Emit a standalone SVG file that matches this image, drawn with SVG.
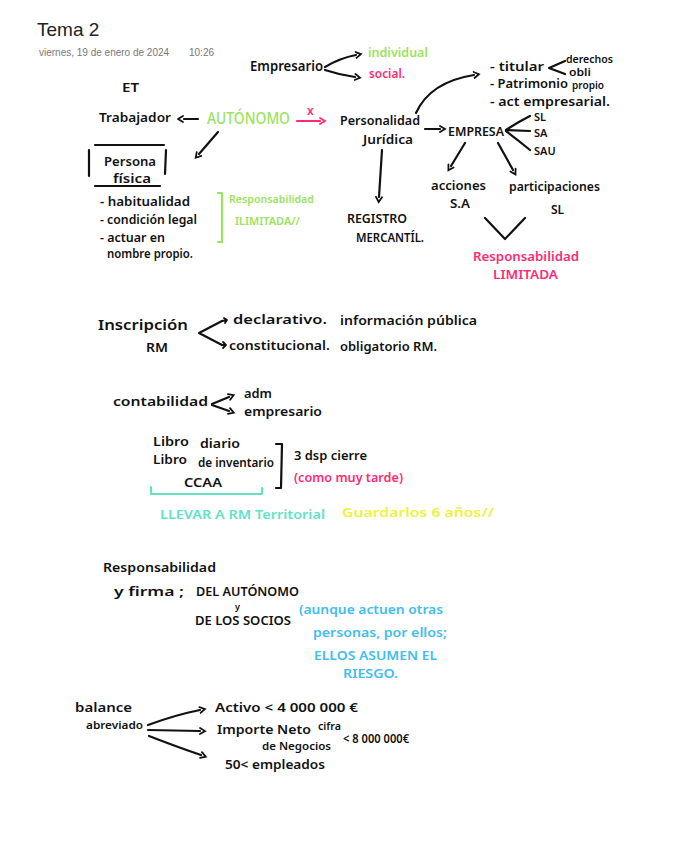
<svg xmlns="http://www.w3.org/2000/svg" width="678" height="848" viewBox="0 0 678 848">
<style>
text{font-family:"Noto Sans","Liberation Sans",sans-serif;font-weight:600;fill:#111}
.t13{font-size:13px}.t12{font-size:12px}.t11{font-size:11px}.t10{font-size:10px}.t14{font-size:14px}
.g{fill:#9ae35c}.p{fill:#ff2a74}.c{fill:#5fe2c6}.y{fill:#eef23a}.b{fill:#41bdf0}
.ln{stroke:#111;stroke-width:2.2;fill:none;stroke-linecap:round;stroke-linejoin:round}
.lp{stroke:#ff2a74}.lg{stroke:#9ae35c}.lc{stroke:#5fe2c6}
.ar{marker-end:url(#ah)}
</style>
<defs>
<marker id="ah" markerWidth="10" markerHeight="10" refX="1" refY="4" orient="auto" markerUnits="userSpaceOnUse">
<path d="M1,1 L6,4 L1,7" fill="none" stroke="#111" stroke-width="1.8" stroke-linecap="round"/>
</marker>
<marker id="ahp" markerWidth="10" markerHeight="10" refX="1" refY="4" orient="auto" markerUnits="userSpaceOnUse">
<path d="M1,1 L6,4 L1,7" fill="none" stroke="#ff2a74" stroke-width="1.8" stroke-linecap="round"/>
</marker>
</defs>
<rect width="678" height="848" fill="#fff"/>

<g id="header">
<text x="37" y="36" style="font-family:'Liberation Sans',sans-serif;font-weight:400;font-size:19px;fill:#222">Tema 2</text>
<text x="39" y="56" style="font-family:'Liberation Sans',sans-serif;font-weight:400;font-size:10px;fill:#777">viernes, 19 de enero de 2024</text>
<text x="189" y="56" style="font-family:'Liberation Sans',sans-serif;font-weight:400;font-size:10px;fill:#777">10:26</text>
</g>

<g id="connectors">
<path class="ln ar" d="M325 67 Q340 58 356 55"/>
<path class="ln ar" d="M325 70 Q340 75 355 77"/>
<path class="ln ar" d="M416 113 Q430 82 474 75"/>
<path class="ln" d="M565 61 L549 68 L565 74"/>
<path class="ln" d="M198 119 L184 119"/>
<path class="ln" d="M183 116 L178 119 L183 122" style="stroke-width:1.8"/>
<path class="ln lp" d="M297 121 L320 121" style="marker-end:url(#ahp)"/>
<path class="ln ar" d="M425 129 L440 129"/>
<path class="ln" d="M506 130 Q518 122 530 116"/>
<path class="ln" d="M506 130 L530 131"/>
<path class="ln" d="M506 131 Q518 140 530 150"/>
<path class="ln ar" d="M218 132 L199 154"/>
<path class="ln ar" d="M382 150 L379 197"/>
<path class="ln ar" d="M465 143 L451 166"/>
<path class="ln ar" d="M498 143 L513 170"/>
<path class="ln" d="M485 218 L505 239 L525 218"/>
<path class="ln" d="M95 145 L164 145 M89 150 L89 176 M166 150 L165 174 M95 186 L160 186"/>
<path class="ln lg" d="M218 193 L222 193 L222 242 L218 242"/>
<path class="ln" d="M222 321 L199 333 L222 345"/>
<path class="ln" d="M222 321 L227 320 M224 318 L227 320 L225 323" style="stroke-width:1.8"/>
<path class="ln" d="M222 345 L226 345 M223 342 L226 345 L223 348" style="stroke-width:1.8"/>
<path class="ln ar" d="M212 404 L229 397"/>
<path class="ln ar" d="M212 405 L229 411"/>
<path class="ln" d="M276 444 L282 444 L281 488 L276 488"/>
<path class="ln lc" d="M151 487 L151 494 L262 494 L262 488"/>
<path class="ln ar" d="M148 725 Q175 715 200 710"/>
<path class="ln ar" d="M148 730 L200 731"/>
<path class="ln ar" d="M149 736 Q180 748 201 755"/>
</g>

<g id="empresario">
<text class="t14" x="250" y="71" textLength="73" lengthAdjust="spacingAndGlyphs">Empresario</text>
<text class="t12 g" x="368" y="57" textLength="60" lengthAdjust="spacingAndGlyphs">individual</text>
<text class="t12 p" x="369" y="78" textLength="36" lengthAdjust="spacingAndGlyphs">social.</text>
</g>
<g id="et"><text class="t13" x="122" y="92" textLength="17" lengthAdjust="spacingAndGlyphs">ET</text></g>
<g id="titular">
<text class="t13" x="490" y="71" textLength="54" lengthAdjust="spacingAndGlyphs">- titular</text>
<text class="t10" x="566" y="63" textLength="47" lengthAdjust="spacingAndGlyphs">derechos</text>
<text class="t10" x="569" y="76" textLength="22" lengthAdjust="spacingAndGlyphs">obli</text>
<text class="t13" x="490" y="88" textLength="78" lengthAdjust="spacingAndGlyphs">- Patrimonio</text>
<text class="t10" x="572" y="89" textLength="32" lengthAdjust="spacingAndGlyphs">propio</text>
<text class="t13" x="490" y="106" textLength="120" lengthAdjust="spacingAndGlyphs">- act empresarial.</text>
</g>
<g id="trabajador"><text class="t13" x="99" y="122" textLength="72" lengthAdjust="spacingAndGlyphs">Trabajador</text></g>
<g id="autonomo">
<text class="g" x="207" y="124" style="font-size:16px;font-weight:500" textLength="83" lengthAdjust="spacingAndGlyphs">AUTÓNOMO</text>
<text class="t12 p" x="307" y="115">x</text>
</g>
<g id="personalidad">
<text class="t13" x="340" y="125" textLength="80" lengthAdjust="spacingAndGlyphs">Personalidad</text>
<text class="t13" x="363" y="144" textLength="50" lengthAdjust="spacingAndGlyphs">Jurídica</text>
</g>
<g id="empresa">
<text class="t13" x="448" y="136" textLength="56" lengthAdjust="spacingAndGlyphs">EMPRESA</text>
<text class="t11" x="534" y="121">SL</text>
<text class="t11" x="534" y="137">SA</text>
<text class="t11" x="534" y="155">SAU</text>
</g>
<g id="persona-fisica">
<text class="t13" x="104" y="166" textLength="52" lengthAdjust="spacingAndGlyphs">Persona</text>
<text class="t13" x="113" y="183" textLength="38" lengthAdjust="spacingAndGlyphs">física</text>
<text class="t12" x="100" y="206" textLength="90" lengthAdjust="spacingAndGlyphs">- habitualidad</text>
<text class="t12" x="100" y="224" textLength="97" lengthAdjust="spacingAndGlyphs">- condición legal</text>
<text class="t12" x="100" y="242" textLength="65" lengthAdjust="spacingAndGlyphs">- actuar en</text>
<text class="t12" x="107" y="258" textLength="86" lengthAdjust="spacingAndGlyphs">nombre propio.</text>
</g>
<g id="ilimitada">
<text class="t11 g" x="229" y="203" textLength="85" lengthAdjust="spacingAndGlyphs">Responsabilidad</text>
<text class="t11 g" x="235" y="225" textLength="65" lengthAdjust="spacingAndGlyphs">ILIMITADA//</text>
</g>
<g id="registro">
<text class="t12" x="347" y="223" textLength="60" lengthAdjust="spacingAndGlyphs">REGISTRO</text>
<text class="t12" x="356" y="242" textLength="68" lengthAdjust="spacingAndGlyphs">MERCANTÍL.</text>
</g>
<g id="acciones">
<text class="t13" x="431" y="190" textLength="55" lengthAdjust="spacingAndGlyphs">acciones</text>
<text class="t12" x="450" y="208" textLength="20" lengthAdjust="spacingAndGlyphs">S.A</text>
</g>
<g id="participaciones">
<text class="t13" x="509" y="191" textLength="91" lengthAdjust="spacingAndGlyphs">participaciones</text>
<text class="t12" x="551" y="214">SL</text>
</g>
<g id="limitada">
<text class="t12 p" x="473" y="261" textLength="106" lengthAdjust="spacingAndGlyphs">Responsabilidad</text>
<text class="t12 p" x="493" y="279" textLength="65" lengthAdjust="spacingAndGlyphs">LIMITADA</text>
</g>

<g id="inscripcion">
<text class="t14" x="98" y="330" textLength="90" lengthAdjust="spacingAndGlyphs">Inscripción</text>
<text class="t13" x="146" y="352" textLength="22" lengthAdjust="spacingAndGlyphs">RM</text>
<text class="t12" x="233" y="324" textLength="94" lengthAdjust="spacingAndGlyphs">declarativo.</text>
<text class="t12" x="340" y="325" textLength="137" lengthAdjust="spacingAndGlyphs">información pública</text>
<text class="t12" x="229" y="350" textLength="101" lengthAdjust="spacingAndGlyphs">constitucional.</text>
<text class="t12" x="340" y="351" textLength="97" lengthAdjust="spacingAndGlyphs">obligatorio RM.</text>
</g>

<g id="contabilidad">
<text class="t13" x="113" y="406" textLength="95" lengthAdjust="spacingAndGlyphs">contabilidad</text>
<text class="t13" x="244" y="398" textLength="28" lengthAdjust="spacingAndGlyphs">adm</text>
<text class="t13" x="244" y="416" textLength="78" lengthAdjust="spacingAndGlyphs">empresario</text>
</g>
<g id="libros">
<text class="t12" x="153" y="446" textLength="36" lengthAdjust="spacingAndGlyphs">Libro</text>
<text class="t12" x="200" y="448" textLength="40" lengthAdjust="spacingAndGlyphs">diario</text>
<text class="t12" x="153" y="464" textLength="34" lengthAdjust="spacingAndGlyphs">Libro</text>
<text class="t12" x="198" y="467" textLength="76" lengthAdjust="spacingAndGlyphs">de inventario</text>
<text class="t12" x="184" y="487" textLength="38" lengthAdjust="spacingAndGlyphs">CCAA</text>
<text class="t13" x="294" y="460" textLength="73" lengthAdjust="spacingAndGlyphs">3 dsp cierre</text>
<text class="t13 p" x="294" y="482" textLength="109" lengthAdjust="spacingAndGlyphs">(como muy tarde)</text>
<text class="t13 c" x="160" y="519" textLength="165" lengthAdjust="spacingAndGlyphs">LLEVAR A RM Territorial</text>
<text class="t13 y" x="342" y="517" textLength="152" lengthAdjust="spacingAndGlyphs">Guardarlos 6 años//</text>
</g>

<g id="responsabilidad">
<text class="t13" x="103" y="572" textLength="113" lengthAdjust="spacingAndGlyphs">Responsabilidad</text>
<text class="t13" x="114" y="596" textLength="70" lengthAdjust="spacingAndGlyphs">y firma ;</text>
<text class="t12" x="196" y="596" textLength="103" lengthAdjust="spacingAndGlyphs">DEL AUTÓNOMO</text>
<text class="t10" x="235" y="610" style="font-size:9px">y</text>
<text class="t12" x="195" y="625" textLength="96" lengthAdjust="spacingAndGlyphs">DE LOS SOCIOS</text>
<text class="t13 b" x="299" y="614" textLength="144" lengthAdjust="spacingAndGlyphs">(aunque actuen otras</text>
<text class="t13 b" x="313" y="637" textLength="134" lengthAdjust="spacingAndGlyphs">personas, por ellos;</text>
<text class="t13 b" x="314" y="660" textLength="123" lengthAdjust="spacingAndGlyphs">ELLOS ASUMEN EL</text>
<text class="t13 b" x="343" y="678" textLength="55" lengthAdjust="spacingAndGlyphs">RIESGO.</text>
</g>

<g id="balance">
<text class="t12" x="75" y="712" textLength="57" lengthAdjust="spacingAndGlyphs">balance</text>
<text class="t11" x="86" y="729" textLength="57" lengthAdjust="spacingAndGlyphs">abreviado</text>
<text class="t12" x="215" y="712" textLength="143" lengthAdjust="spacingAndGlyphs">Activo  &lt;  4 000 000 €</text>
<text class="t12" x="217" y="734" textLength="94" lengthAdjust="spacingAndGlyphs">Importe Neto</text>
<text class="t10" x="318" y="730" textLength="23" lengthAdjust="spacingAndGlyphs">cifra</text>
<text class="t10" x="262" y="750" textLength="69" lengthAdjust="spacingAndGlyphs">de Negocios</text>
<text class="t12" x="343" y="743" textLength="66" lengthAdjust="spacingAndGlyphs">&lt; 8 000 000€</text>
<text class="t12" x="225" y="769" textLength="100" lengthAdjust="spacingAndGlyphs">50&lt; empleados</text>
</g>
</svg>
